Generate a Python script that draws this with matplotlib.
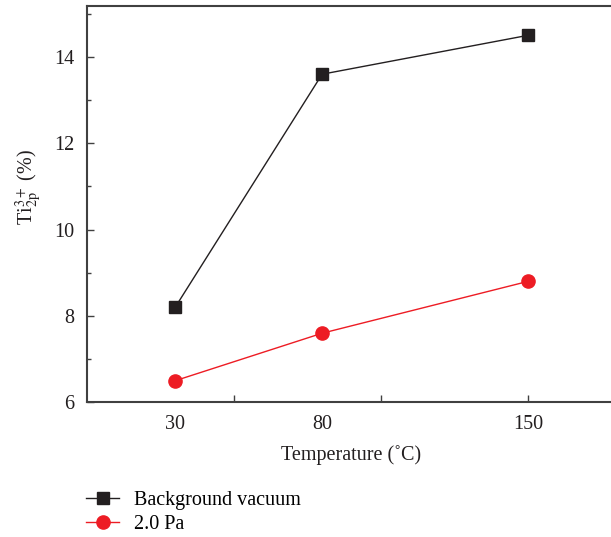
import matplotlib
matplotlib.use("Agg")
import matplotlib.pyplot as plt
from matplotlib.ticker import FixedLocator, MultipleLocator

temperatures = [30, 80, 150]
background_vacuum = [8.2, 13.6, 14.5]
pa_2_0 = [6.5, 7.6, 8.8]
tick_positions = [50, 100, 150]
label_values = [30, 80, 150]

plt.rcParams['font.family'] = ['Liberation Serif', 'DejaVu Serif']
plt.rcParams['mathtext.fontset'] = 'stix'

fig = plt.figure(figsize=(6.11, 5.37), dpi=100)
ax = fig.add_axes([87/611, (537-402.3)/537, 529/611, 396.3/537])

black = '#231f20'
red = '#ed1c24'
ax.plot(temperatures, background_vacuum, '-s', color=black, lw=1.0,
        markersize=8, label='Background vacuum')
ax.plot(temperatures, pa_2_0, '-o', color=red, lw=1.0,
        markersize=9.5, label='2.0 Pa')

ax.set_xlim(0, 180)
ax.set_ylim(6, 15.18)

ax.xaxis.remove_overlapping_locs = False
ax.xaxis.set_major_locator(FixedLocator(tick_positions))
ax.xaxis.set_minor_locator(FixedLocator(label_values))
ax.xaxis.set_major_formatter(plt.NullFormatter())
ax.xaxis.set_minor_formatter(plt.FixedFormatter([str(v) for v in label_values]))
ax.tick_params(axis='x', which='major', direction='in', length=5, width=1, colors='#404040')
ax.tick_params(axis='x', which='minor', length=0, labelsize=14.5, labelcolor='#231f20', pad=9)

ax.yaxis.set_major_locator(MultipleLocator(2))
ax.yaxis.set_minor_locator(MultipleLocator(1))
ax.tick_params(axis='y', which='major', direction='in', length=5, width=1,
               labelsize=14.5, colors='#404040', labelcolor='#231f20', pad=9)
ax.tick_params(axis='y', which='minor', direction='in', length=3, width=1, colors='#404040')

for side in ['left', 'bottom', 'top', 'right']:
    ax.spines[side].set_color('#404040')
    ax.spines[side].set_linewidth(1.5)

ax.set_xlabel('Temperature (˚C)', fontsize=14.5, color='#231f20', labelpad=8)
ax.set_ylabel('Ti$_{2\\mathrm{p}}^{3+}$ (%)', fontsize=14.5, color='#231f20')
ax.yaxis.set_label_coords(-43/529, 0.543)

fig.legend(loc='upper left', bbox_to_anchor=(68/611, 1-473/537), frameon=False,
           fontsize=14.5, handlelength=1.65, handletextpad=0.75, labelspacing=0.25)

fig.savefig('out.png', dpi=100)
